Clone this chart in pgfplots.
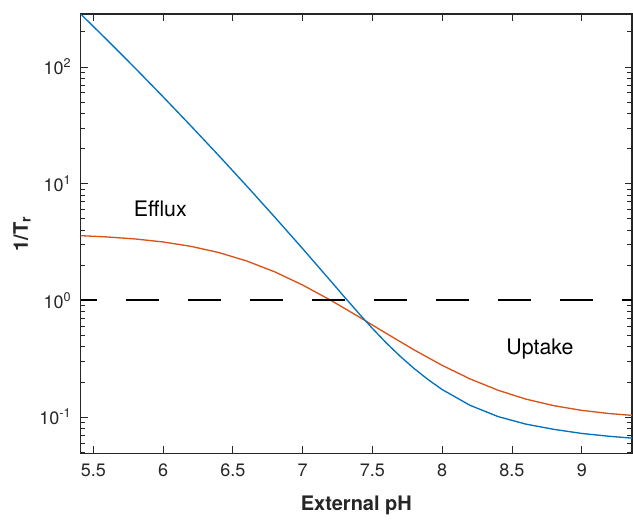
\documentclass[border=0pt]{standalone}
\usepackage{fontspec}
\setmainfont{TeX Gyre Heros}
\usepackage{pgfplots}
\pgfplotsset{compat=1.18}

\definecolor{mblue}{rgb}{0,0.447,0.741}
\definecolor{morange}{rgb}{0.85,0.325,0.098}
\definecolor{axgray}{rgb}{0.15,0.15,0.15}

% 1/T_r, pH vs value
\pgfplotstableread{
ph    val
5.41  284
5.6   169.7
5.8   97.7
6.0   55.5
6.2   31.2
6.4   17.35
6.6   9.53
6.8   5.17
7.0   2.775
7.2   1.471
7.3   1.068
7.42  0.733
7.5   0.575
7.6   0.431
7.7   0.331
7.8   0.26
7.9   0.209
8.0   0.172
8.2   0.126
8.4   0.101
8.6   0.087
8.8   0.0785
9.0   0.0724
9.2   0.0684
9.36  0.066
}\blue

\pgfplotstableread{
ph    val
5.41  3.583
5.6   3.493
5.8   3.358
6.0   3.165
6.2   2.903
6.4   2.567
6.6   2.173
6.8   1.755
7.0   1.353
7.2   1.004
7.4   0.7266
7.6   0.5207
7.8   0.3757
8.0   0.2773
8.2   0.2122
8.4   0.1698
8.6   0.1425
8.8   0.1252
9.0   0.1141
9.2   0.1071
9.36  0.1034
}\orange

\begin{document}
\begin{tikzpicture}
\begin{axis}[
    name=ax,
    scale only axis,
    width=413.25pt, height=329.25pt,
    xmin=5.41, xmax=9.36,
    ymode=log, ymin=0.049, ymax=284,
    xtick={5.5,6,...,9},
    ytick={0.1,1,10,100},
    yticklabels={10\textsuperscript{-1},10\textsuperscript{0},10\textsuperscript{1},10\textsuperscript{2}},
    minor ytick={0.05,0.06,0.07,0.08,0.09,0.2,0.3,0.4,0.5,0.6,0.7,0.8,0.9,
                 2,3,4,5,6,7,8,9,20,30,40,50,60,70,80,90,200},
    major tick length=5.5pt,
    minor tick length=3.5pt,
    tick style={axgray, line width=0.6pt},
    axis line style={axgray, line width=0.8pt},
    /pgf/number format/assume math mode=true,
    tick label style={font=\fontsize{13.5}{16}\selectfont, text=axgray},
    xticklabel style={yshift=-4.5pt},
    yticklabel style={xshift=-3.5pt},
    xlabel={\textbf{External pH}},
    ylabel={\textbf{1/T\textsubscript{r}}},
    label style={font=\fontsize{15}{18}\selectfont, text=axgray},
    xlabel style={at={(axis description cs:0.5,-0.1185)}, anchor=center},
    ylabel style={at={(axis description cs:-0.1065,0.5)}, anchor=center},
    clip=true,
]
\addplot[morange, line width=1pt] table[x=ph, y=val] {\orange};
\addplot[mblue, line width=1pt] table[x=ph, y=val] {\blue};
\addplot[black, line width=1.3pt, dash pattern=on 24.75pt off 21.75pt, dash phase=12.75pt]
    coordinates {(5.41,1) (9.36,1)};
\node[font=\fontsize{16}{19}\selectfont] at (axis cs:5.98,6.1) {Efflux};
\node[font=\fontsize{16}{19}\selectfont] at (axis cs:8.70,0.381) {Uptake};
\end{axis}
\path (ax.south west) ++(-60.5pt,-48.75pt) rectangle ([shift={(0.75pt,10.5pt)}]ax.north east);
\end{tikzpicture}
\end{document}
